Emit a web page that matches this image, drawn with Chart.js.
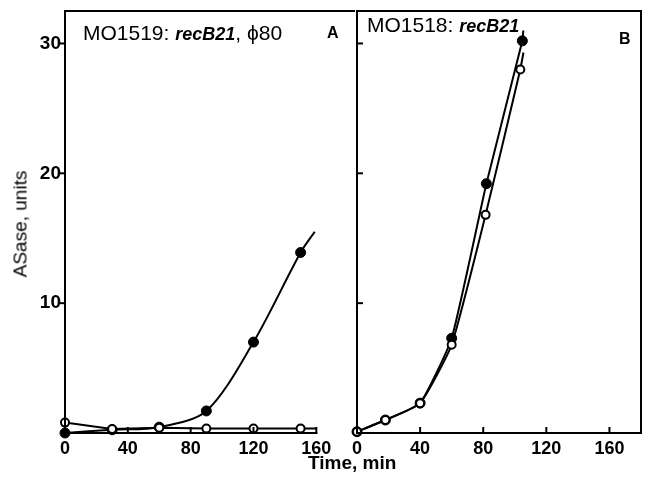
<!DOCTYPE html>
<html><head><meta charset="utf-8">
<script src="https://cdn.jsdelivr.net/npm/chart.js@4"></script>
<style>
html,body{margin:0;padding:0;background:#fff;}
body{width:647px;height:479px;position:relative;overflow:hidden;font-family:"Liberation Sans",Arial,sans-serif;color:#000;}
canvas{position:absolute;top:0;}
#cA{left:0;} #cB{left:340px;}
.t{position:absolute;white-space:nowrap;line-height:1;}
.it{font-style:italic;font-weight:bold;font-size:18px;}
</style></head><body>
<canvas id="cA" width="360" height="479"></canvas>
<canvas id="cB" width="307" height="479"></canvas>
<div class="t" style="left:83px;top:22px;font-size:21px;">MO1519: <span class="it">recB21</span>, ϕ80</div>
<div class="t" style="left:327px;top:25px;font-size:16px;font-weight:bold;">A</div>
<div class="t" style="left:367px;top:14px;font-size:21px;">MO1518: <span class="it">recB21</span></div>
<div class="t" style="left:619px;top:31px;font-size:16px;font-weight:bold;">B</div>
<div class="t" style="left:20px;top:224px;font-size:19px;transform:translate(-50%,-50%) rotate(-90deg);">ASase, units</div>
<div class="t" style="left:308px;top:453px;font-size:19px;font-weight:bold;">Time, min</div>
<script>
// ---- data ----
const xTickValues = [0, 40, 80, 120, 160];
const yTickValues = [10, 20, 30];

// Panel A: MO1519 recB21, phi80 (last point = end of drawn curve, no marker)
const aFilledTime = [0, 30, 60, 90, 120, 150, 159];
const aFilled     = [0, 0.25, 0.45, 1.7, 7.0, 13.9, 15.5];
const aOpenTime   = [0, 30, 60, 90, 120, 150, 160];
const aOpen       = [0.8, 0.3, 0.4, 0.35, 0.35, 0.35, 0.35];

// Panel B: MO1518 recB21
const bFilledTime = [0, 18, 40, 60, 82, 104.8, 105.4];
const bFilled     = [0.1, 1.0, 2.3, 7.3, 19.2, 30.2, 31.0];
const bOpenTime   = [0, 18, 40, 60, 81.5, 103.5, 105.5];
const bOpen       = [0.1, 1.0, 2.3, 6.8, 16.8, 28.0, 29.3];

const pts = (xs, ys) => xs.map((x, i) => ({x, y: ys[i]}));
const radius = r => c => (c.dataIndex === c.dataset.data.length - 1 ? 0 : r);

function filledSet(xs, ys, tension) {
  return {data: pts(xs, ys), borderColor:'#000', backgroundColor:'#000', borderWidth:2,
    pointRadius: radius(5), pointBorderWidth:1, pointBorderColor:'#000', pointBackgroundColor:'#000',
    tension: tension, clip:false, order:2};
}
function openSet(xs, ys, tension) {
  return {data: pts(xs, ys), borderColor:'#000', backgroundColor:'#fff', borderWidth:2,
    pointRadius: radius(4), pointBorderWidth:2, pointBorderColor:'#000', pointBackgroundColor:'#fff',
    tension: tension, clip:false, order:1};
}

const framePlugin = {
  id: 'frame',
  afterDraw(chart, args, opts) {
    const ctx = chart.ctx, a = chart.chartArea, xs = chart.scales.x, ys = chart.scales.y;
    ctx.save();
    ctx.strokeStyle = '#000'; ctx.lineWidth = 2; ctx.lineCap = 'square';
    const line = (x1, y1, x2, y2) => { ctx.beginPath(); ctx.moveTo(x1, y1); ctx.lineTo(x2, y2); ctx.stroke(); };
    line(a.left, a.top, a.left, a.bottom);
    line(a.left, a.top, a.right, a.top);
    if (opts.panel === 'A') {
      line(a.left, a.bottom, xs.getPixelForValue(xTickValues[xTickValues.length - 1]), a.bottom);
      yTickValues.forEach(v => line(a.left - 5, ys.getPixelForValue(v), a.left, ys.getPixelForValue(v)));
    } else {
      line(a.left, a.bottom, a.right, a.bottom);
      line(a.right, a.top, a.right, a.bottom);
      yTickValues.forEach(v => line(a.left, ys.getPixelForValue(v), a.left + 5, ys.getPixelForValue(v)));
    }
    xTickValues.forEach(v => { const p = xs.getPixelForValue(v); line(p, a.bottom, p, a.bottom - 5); });
    ctx.restore();
  }
};

function makeChart(id, datasets, panel, xMax, yAxisWidth, padRight, showY) {
  return new Chart(document.getElementById(id), {
    type: 'line',
    data: {datasets},
    options: {
      responsive: false, animation: false, devicePixelRatio: 1,
      layout: {padding: {top: 11, right: padRight, left: 0, bottom: 0}},
      plugins: {legend: {display: false}, tooltip: {enabled: false}, frame: {panel}},
      scales: {
        x: {type: 'linear', min: 0, max: xMax,
          grid: {display: false, drawTicks: false}, border: {display: false},
          afterBuildTicks: s => { s.ticks = xTickValues.map(v => ({value: v})); },
          afterFit: s => { s.height = 46; s.paddingLeft = 0; s.paddingRight = 0; },
          ticks: {color: '#000', padding: 5, maxRotation: 0, autoSkip: false,
            font: {family: 'Liberation Sans', size: 18, weight: 'bold'}}},
        y: {type: 'linear', min: 0, max: 32.5,
          grid: {display: false, drawTicks: false}, border: {display: false},
          afterBuildTicks: s => { s.ticks = yTickValues.map(v => ({value: v})); },
          afterFit: s => { s.width = yAxisWidth; s.paddingTop = 0; s.paddingBottom = 0; },
          ticks: {display: showY, color: '#000', padding: 4,
            font: {family: 'Liberation Sans', size: 19, weight: 'bold'}}}
      }
    },
    plugins: [framePlugin]
  });
}

makeChart('cA', [filledSet(aFilledTime, aFilled, 0.3), openSet(aOpenTime, aOpen, 0)], 'A', 184, 65, 2, true);
makeChart('cB', [filledSet(bFilledTime, bFilled, 0.15), openSet(bOpenTime, bOpen, 0.15)], 'B', 180, 17, 4, false);
</script>
</body></html>
